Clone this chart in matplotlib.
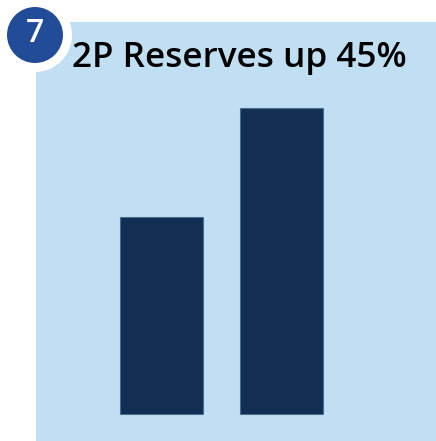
import matplotlib
matplotlib.use("Agg")
import matplotlib.pyplot as plt
from matplotlib.patches import Circle

# data
periods = [0, 1]
reserves = [197, 306]
title = "2P Reserves up 45%"
badge = "7"

panel_color = "#C0DFF2"
bar_color = "#122E52"

fig = plt.figure(figsize=(4.36, 4.41), dpi=100)

ax = fig.add_axes([36 / 436, 0, 400 / 436, 419 / 441])
ax.set_facecolor(panel_color)
ax.bar(periods, reserves, width=0.687, color=bar_color, edgecolor="#4A6A90", linewidth=0.8)
ax.set_xlim(-1.046, 2.2875)
ax.set_ylim(-27, 392)
ax.set_xticks([])
ax.set_yticks([])
for s in ax.spines.values():
    s.set_visible(False)

# title
fig.text(72 / 436, 1 - 67 / 441, title, fontsize=25.3, fontweight="semibold",
         family="Open Sans", color="black", va="baseline", ha="left")

# numbered badge
fig.add_artist(Circle((0.35, 4.06), 0.37, transform=fig.dpi_scale_trans,
                      facecolor="white", edgecolor="none"))
fig.add_artist(Circle((0.35, 4.06), 0.28, transform=fig.dpi_scale_trans,
                      facecolor="#234C98", edgecolor="none"))
fig.text(0.35 / 4.36, 4.08 / 4.41, badge, fontsize=23, color="white",
         fontweight="semibold", family="Open Sans", ha="center", va="center")

fig.savefig("out.png", dpi=100)
